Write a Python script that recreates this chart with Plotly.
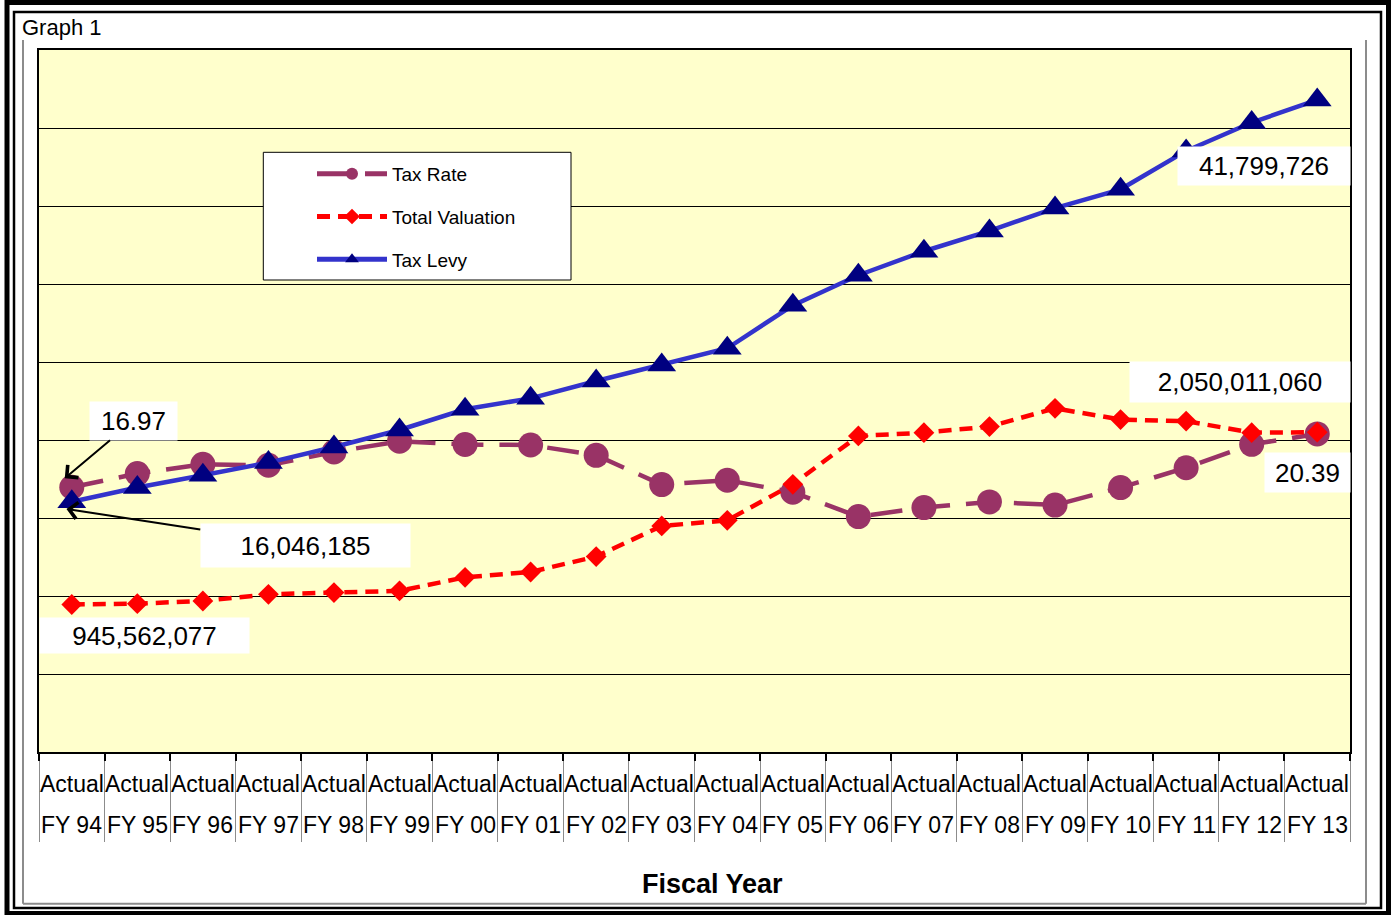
import plotly.graph_objects as go

# ---------------- data ----------------
years = ["FY 94", "FY 95", "FY 96", "FY 97", "FY 98", "FY 99", "FY 00", "FY 01", "FY 02", "FY 03",
         "FY 04", "FY 05", "FY 06", "FY 07", "FY 08", "FY 09", "FY 10", "FY 11", "FY 12", "FY 13"]
tick_top = "Actual"

tax_rate = [16.97, 17.85, 18.44, 18.38, 19.23, 19.92, 19.71, 19.68, 19.02, 17.14,
            17.42, 16.65, 15.09, 15.67, 16.03, 15.83, 16.95, 18.22, 19.72, 20.39]

total_valuation = [945562077, 951000000, 968000000, 1011000000, 1022000000, 1033000000,
                   1120000000, 1154000000, 1253000000, 1449000000, 1485000000, 1716000000,
                   2026000000, 2047000000, 2086000000, 2203000000, 2131000000, 2121000000,
                   2047000000, 2050011060]

tax_levy = [16046185, 16950000, 17740000, 18550000, 19550000, 20640000, 21970000, 22670000,
            23780000, 24810000, 25880000, 28630000, 30560000, 32100000, 33400000, 34870000,
            36070000, 38530000, 40350000, 41799726]

series_names = ["Tax Rate", "Total Valuation", "Tax Levy"]

# ---------------- geometry helpers (layout only) ----------------
W, H = 1393, 915
L, R, T, B = 39, 1350, 50, 752
PW, PH = R - L, B - T


def px(x):
    return (x - L) / PW


def py(y):
    return (B - y) / PH


FONT = "Liberation Sans, Arial, sans-serif"

fig = go.Figure()

fig.add_trace(go.Scatter(
    x=years, y=tax_rate, name=series_names[0], legendgroup="g1",
    mode="lines+markers", yaxis="y",
    line=dict(color="#993366", width=4.5, dash="32px,16px"),
    marker=dict(symbol="circle", size=25, color="#993366"),
    hoverinfo="x+y",
))
fig.add_trace(go.Scatter(
    x=years, y=total_valuation, name=series_names[1], legendgroup="g2",
    mode="lines+markers", yaxis="y2",
    line=dict(color="#FF0000", width=4.5, dash="13px,8px"),
    marker=dict(symbol="diamond", size=16, color="#FF0000"),
    hoverinfo="x+y",
))
fig.add_trace(go.Scatter(
    x=years, y=tax_levy, name=series_names[2], legendgroup="g3",
    mode="lines+markers", yaxis="y3",
    line=dict(color="#3333CC", width=4.5),
    marker=dict(symbol="triangle-up", size=25, color="#000080"),
    hoverinfo="x+y",
))
# carrier for the short dark tick marks axis
fig.add_trace(go.Scatter(x=[None], y=[None], xaxis="x2", yaxis="y",
                         showlegend=False, hoverinfo="skip", mode="markers"))

annotations = []

# category tick labels (two lines with wide spacing)
for yr in years:
    annotations.append(dict(x=yr, xref="x", y=0, yref="paper", yshift=-31.5,
                            text=tick_top, showarrow=False, xanchor="center", yanchor="middle",
                            font=dict(family=FONT, size=23, color="black")))
    annotations.append(dict(x=yr, xref="x", y=0, yref="paper", yshift=-73,
                            text=yr, showarrow=False, xanchor="center", yanchor="middle",
                            font=dict(family=FONT, size=23, color="black")))

lab_font = dict(family=FONT, size=26, color="black")

# first-year / last-year value labels
annotations.append(dict(x=years[0], xref="x", y=tax_rate[0], yref="y",
                        xshift=-7, yshift=9, ax=68.5, ay=-57.5,
                        text=f"{tax_rate[0]:.2f}", showarrow=True,
                        arrowhead=4, arrowsize=1.6, arrowwidth=2, arrowcolor="black",
                        bgcolor="white", width=87, height=38, borderpad=0, font=lab_font))
annotations.append(dict(x=years[0], xref="x", y=tax_levy[0], yref="y3",
                        xshift=-5.3, yshift=-7.3, ax=238.8, ay=36.5,
                        text=f"{tax_levy[0]:,}", showarrow=True,
                        arrowhead=4, arrowsize=1.6, arrowwidth=2, arrowcolor="black",
                        bgcolor="white", width=209, height=43, borderpad=0, font=lab_font))
annotations.append(dict(x=years[0], xref="x", y=total_valuation[0], yref="y2",
                        xshift=72.5, yshift=-31, text=f"{total_valuation[0]:,}",
                        showarrow=False, bgcolor="white", width=209, height=35, borderpad=0,
                        font=lab_font))
annotations.append(dict(x=years[-1], xref="x", y=tax_levy[-1], yref="y3",
                        xshift=-53, yshift=-66.3, text=f"{tax_levy[-1]:,}",
                        showarrow=False, bgcolor="white", width=172, height=38, borderpad=0,
                        font=lab_font))
annotations.append(dict(x=years[-1], xref="x", y=total_valuation[-1], yref="y2",
                        xshift=-77, yshift=50.3, text=f"{total_valuation[-1]:,}",
                        showarrow=False, bgcolor="white", width=220, height=40, borderpad=0,
                        font=lab_font))
annotations.append(dict(x=years[-1], xref="x", y=tax_rate[-1], yref="y",
                        xshift=-9.5, yshift=-38.5, text=f"{tax_rate[-1]:.2f}",
                        showarrow=False, bgcolor="white", width=85, height=39, borderpad=0,
                        font=lab_font))

# axis title and graph caption
annotations.append(dict(x=px(712.7), xref="paper", y=py(884), yref="paper",
                        text="<b>Fiscal Year</b>", showarrow=False, xanchor="center",
                        yanchor="middle", font=dict(family=FONT, size=27, color="black")))
annotations.append(dict(x=px(20), xref="paper", y=py(28), yref="paper",
                        text="Graph 1", showarrow=False, xanchor="left",
                        yanchor="middle", font=dict(family=FONT, size=22, color="black")))

shapes = [
    # outer double black frame
    dict(type="rect", xref="paper", yref="paper", x0=px(7), x1=px(1388.5),
         y0=py(913.5), y1=py(2.5), line=dict(color="black", width=5), layer="below"),
    dict(type="rect", xref="paper", yref="paper", x0=px(14), x1=px(1381),
         y0=py(908), y1=py(12), line=dict(color="black", width=2.5), layer="below"),
    # grey chart-area edges
    dict(type="line", xref="paper", yref="paper", x0=px(23), x1=px(23),
         y0=py(40), y1=py(903.7), line=dict(color="#8C8C8C", width=2), layer="below"),
    dict(type="line", xref="paper", yref="paper", x0=px(1366), x1=px(1366),
         y0=py(40), y1=py(903.7), line=dict(color="#8C8C8C", width=2), layer="below"),
    dict(type="line", xref="paper", yref="paper", x0=px(23), x1=px(1366),
         y0=py(903.7), y1=py(903.7), line=dict(color="#8C8C8C", width=2), layer="below"),
    # legend frame
    dict(type="rect", xref="paper", yref="paper", x0=px(263.3), x1=px(571),
         y0=py(280), y1=py(152.3), fillcolor="white",
         line=dict(color="black", width=1), layer="above"),
]

fig.update_layout(
    width=W, height=H,
    margin=dict(l=L, r=W - R, t=T, b=H - B, pad=0),
    paper_bgcolor="white",
    plot_bgcolor="#FFFFCC",
    font=dict(family=FONT, size=19, color="black"),
    showlegend=True,
    legend=dict(
        x=px(312), y=py(155), xanchor="left", yanchor="top",
        bgcolor="rgba(0,0,0,0)", borderwidth=0,
        font=dict(family=FONT, size=19, color="black"),
        itemwidth=70, itemsizing="constant", tracegroupgap=15,
        traceorder="grouped",
    ),
    xaxis=dict(
        type="category", categoryorder="array", categoryarray=years,
        range=[-0.5, len(years) - 0.5],
        showgrid=False, zeroline=False, showticklabels=False,
        ticks="outside", tickson="boundaries", ticklen=88,
        tickcolor="#8C8C8C", tickwidth=1,
        showline=True, linecolor="black", linewidth=2, mirror=True,
    ),
    xaxis2=dict(
        overlaying="x", side="bottom", range=[-0.5, len(years) - 0.5],
        tickmode="linear", tick0=-0.5, dtick=1,
        showgrid=False, zeroline=False, showticklabels=False,
        ticks="outside", ticklen=8, tickcolor="black", tickwidth=2,
        showline=False,
    ),
    yaxis=dict(
        range=[0, 45], dtick=5, tick0=0,
        showgrid=True, gridcolor="black", gridwidth=1,
        zeroline=False, showticklabels=False, ticks="",
        showline=True, linecolor="black", linewidth=2, mirror=True,
    ),
    yaxis2=dict(overlaying="y", range=[0, 4.5e9], visible=False, showgrid=False),
    yaxis3=dict(overlaying="y", range=[0, 45e6], visible=False, showgrid=False),
    annotations=annotations,
    shapes=shapes,
)

fig.write_html("out.html")
